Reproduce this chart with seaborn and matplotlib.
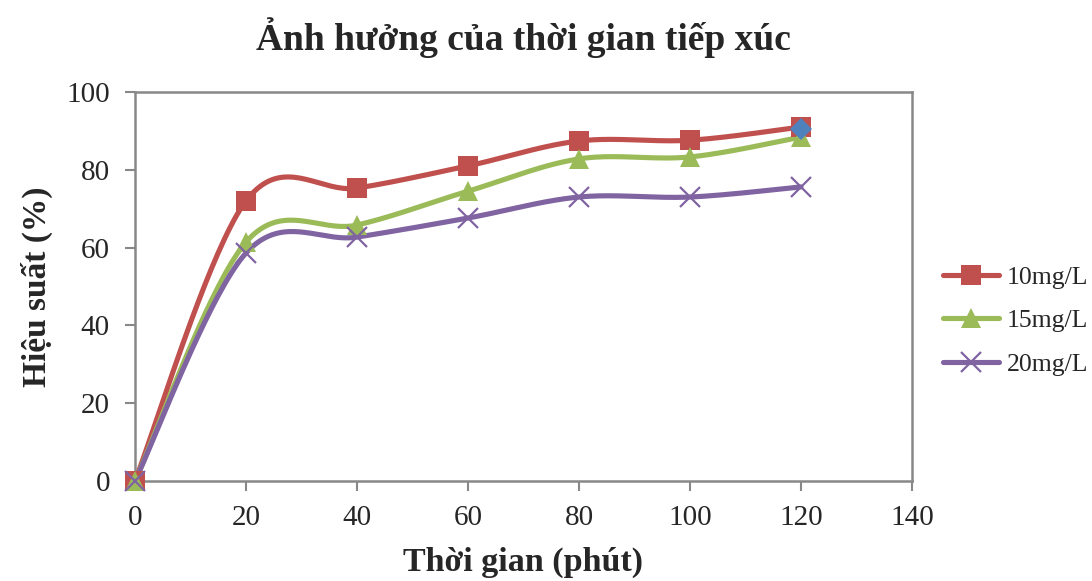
import numpy as np
import pandas as pd
import matplotlib
matplotlib.use("Agg")
import matplotlib.pyplot as plt
from matplotlib.lines import Line2D
import seaborn as sns

time_min = [0, 20, 40, 60, 80, 100, 120]
y_10 = [0, 72.0, 75.3, 81.0, 87.4, 87.6, 91.0]
y_15 = [0, 61.4, 65.8, 74.5, 82.8, 83.3, 88.4]
y_20 = [0, 58.6, 62.7, 67.6, 73.0, 73.0, 75.6]
extra_x = [120]
extra_y = [90.4]
labels = ["10mg/L", "15mg/L", "20mg/L"]

sns.set_theme(style="white")
plt.rcParams['font.family'] = ['Liberation Serif', 'DejaVu Serif']


def smooth(xs, ys, n=40):
    """Excel-like Bezier smoothing through the points."""
    P = np.column_stack([xs, ys]).astype(float)
    out = []
    for i in range(len(P) - 1):
        p0 = P[i - 1] if i > 0 else P[i]
        p1 = P[i]
        p2 = P[i + 1]
        p3 = P[i + 2] if i + 2 < len(P) else P[i + 1]
        c1 = p1 + (p2 - p0) / 6.0
        c2 = p2 - (p3 - p1) / 6.0
        t = np.linspace(0, 1, n)[:, None]
        seg = ((1 - t) ** 3) * p1 + 3 * ((1 - t) ** 2) * t * c1 + 3 * (1 - t) * t ** 2 * c2 + t ** 3 * p2
        out.append(seg if i == 0 else seg[1:])
    S = np.vstack(out)
    return S[:, 0], S[:, 1]


fig = plt.figure(figsize=(10.92, 5.81), dpi=100)
ax = fig.add_axes([0.1236, 0.172, 0.7115, 0.6697])

colors = ["#C0504D", "#9BBB59", "#8064A2"]
markers = ["s", "^", "x"]
series = [y_10, y_15, y_20]
LW = 3.7

for vals, col, mk, lab in zip(series, colors, markers, labels):
    sx, sy = smooth(time_min, vals)
    df = pd.DataFrame({"x": sx, "y": sy})
    sns.lineplot(data=df, x="x", y="y", sort=False, ax=ax, color=col, linewidth=LW,
                 estimator=None, zorder=3)
    if mk == "x":
        ax.plot(time_min, vals, linestyle="none", marker=mk, markersize=15,
                markeredgewidth=1.6, color=col, zorder=4, clip_on=False)
    elif mk == "s":
        ax.plot(time_min, vals, linestyle="none", marker=mk, markersize=14.5,
                color=col, markeredgewidth=0, zorder=4, clip_on=False)
    else:
        ax.plot(time_min, vals, linestyle="none", marker=mk, markersize=15,
                color=col, markeredgewidth=0, zorder=4, clip_on=False)

ax.plot(extra_x, extra_y, linestyle="none", marker="D", markersize=11,
        color="#4F81BD", markeredgewidth=0, zorder=5)

ax.set_xlim(0, 140)
ax.set_ylim(0, 100)
ax.set_xticks(range(0, 141, 20))
ax.set_yticks(range(0, 101, 20))
ax.tick_params(axis="both", which="both", direction="out", length=7, width=1.5,
               color="#888888", labelsize=21, bottom=True, left=True)
ax.tick_params(axis="y", pad=11)
ax.tick_params(axis="x", pad=10)
for s in ax.spines.values():
    s.set_color("#888888")
    s.set_linewidth(1.8)
    s.set_zorder(2)
ax.set_xlabel("Thời gian (phút)", fontsize=24.5, fontweight="bold")
ax.set_ylabel("Hiệu suất (%)", fontsize=24, fontweight="bold")
ax.xaxis.set_label_coords(0.5, -0.168)
ax.yaxis.set_label_coords(-0.105, 0.5)
fig.text(0.479, 1 - 38 / 581, "Ảnh hưởng của thời gian tiếp xúc", fontsize=27,
         fontweight="bold", ha="center", va="center")

handles = []
for col, mk, lab in zip(colors, markers, labels):
    if mk == "x":
        h = Line2D([], [], color=col, linewidth=LW, marker=mk, markersize=15, markeredgewidth=1.6)
    else:
        h = Line2D([], [], color=col, linewidth=LW, marker=mk, markersize=14.5, markeredgewidth=0)
    handles.append(h)
fig.legend(handles, labels, loc="center left", bbox_to_anchor=(0.864, 0.448),
           frameon=False, fontsize=18.5, handlelength=2.15, handletextpad=0.3,
           labelspacing=0.8, borderaxespad=0, borderpad=0)

fig.savefig("out.png", dpi=100)
